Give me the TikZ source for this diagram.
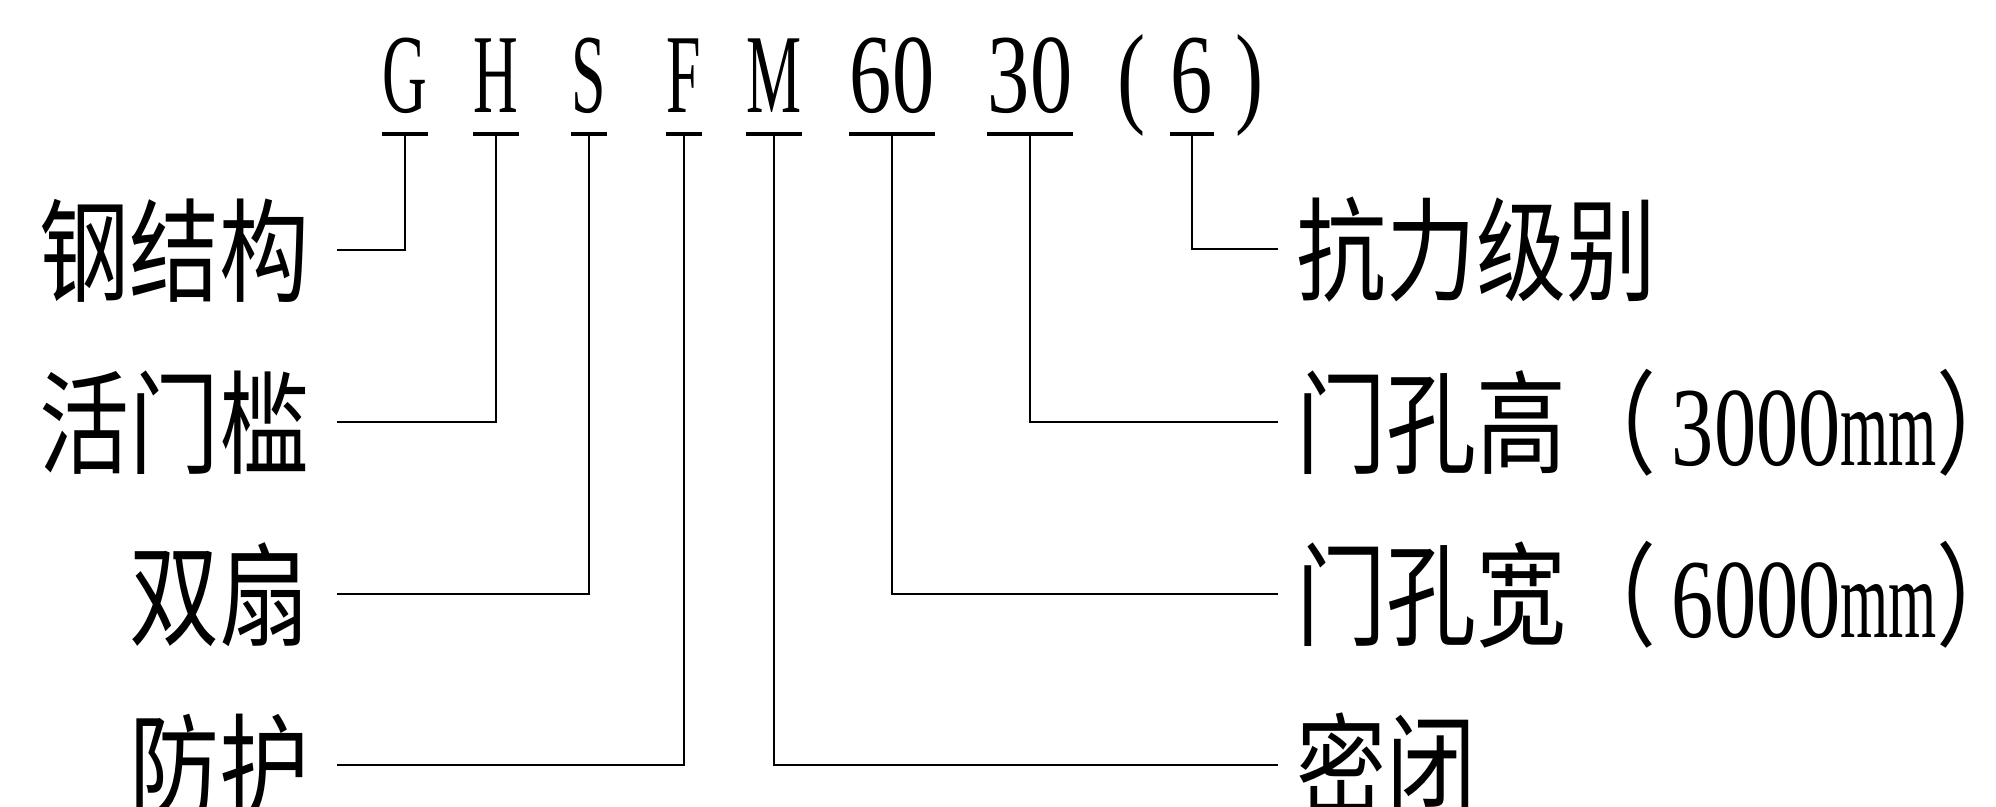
\documentclass[tikz,border=0pt]{standalone}
\usepackage{fontspec}
\newfontfamily\cjk[FakeStretch=0.8]{Noto Sans CJK SC}
\newfontfamily\codefont[FakeStretch=0.55]{Liberation Serif}
\newfontfamily\numfont[FakeStretch=0.75]{Liberation Serif}
\newcommand{\closepar}{\makebox[0.3em][l]{）}}
\tikzstyle{code} = [
  inner sep=0pt,
  anchor=base,
  text height=24pt,
  text depth=0pt,
  font=\fontsize{32}{36}\selectfont\codefont,
]
\tikzstyle{digits} = [
  code,
  font=\fontsize{32}{36}\selectfont\numfont,
]
\tikzstyle{item} = [
  inner xsep=0.27cm,
  inner ysep=0pt,
  text height=25pt,
  text depth=0pt,
  anchor=east,
  font=\fontsize{32}{36}\selectfont\cjk,
]
\tikzstyle{meaning} = [
  item,
  inner xsep=0pt,
  anchor=west,
]
\tikzstyle{bar} = [
  line width=1.1pt,
]
\tikzstyle{lead} = [
  line width=0.6pt,
]

\begin{document}
\begin{tikzpicture}[
    x=0.01cm,
    y=-0.01cm,
  ]
  \useasboundingbox (0,0) rectangle (1996,807);
  % model code
  \node[code] (g) at (405,113) {G};
  \node[code] (h) at (496,113) {H};
  \node[code] (s) at (589,113) {S};
  \node[code] (f) at (684,113) {F};
  \node[code] (m) at (774,113) {M};
  \node[digits] (wd) at (892,113) {60};
  \node[digits] (ht) at (1030,113) {30};
  \node[digits] (lp) at (1132,113) {(};
  \node[digits] (lvl) at (1192,113) {6};
  \node[digits] (rp) at (1250,113) {)};
  \foreach \c in {g,h,s,f,m,wd,ht,lvl}
    \draw[bar] ([yshift=-0.2cm]\c.south west) -- ([yshift=-0.2cm]\c.south east);
  % meanings
  \node[item] (steel) at (337,250) {钢结构};
  \node[item] (sill) at (337,422) {活门槛};
  \node[item] (leaf) at (337,594) {双扇};
  \node[item] (prot) at (337,765) {防护};
  \node[meaning] (grade) at (1296,249) {抗力级别};
  \node[meaning] (height) at (1296,422)
    {门孔高（\hspace{0.15cm}{\numfont 3000}{\codefont mm}\closepar};
  \node[meaning] (width) at (1296,594)
    {门孔宽（\hspace{0.15cm}{\numfont 6000}{\codefont mm}\closepar};
  \node[meaning] (seal) at (1296,765) {密闭};
  \draw[lead] ([yshift=-0.2cm]g.south) |- (steel);
  \draw[lead] ([yshift=-0.2cm]h.south) |- (sill);
  \draw[lead] ([yshift=-0.2cm]s.south) |- (leaf);
  \draw[lead] ([yshift=-0.2cm]f.south) |- (prot);
  \draw[lead, shorten >=0.18cm] ([yshift=-0.2cm]m.south) |- (seal);
  \draw[lead, shorten >=0.18cm] ([yshift=-0.2cm]wd.south) |- (width);
  \draw[lead, shorten >=0.18cm] ([yshift=-0.2cm]ht.south) |- (height);
  \draw[lead, shorten >=0.18cm] ([yshift=-0.2cm]lvl.south) |- (grade);
\end{tikzpicture}
\end{document}
